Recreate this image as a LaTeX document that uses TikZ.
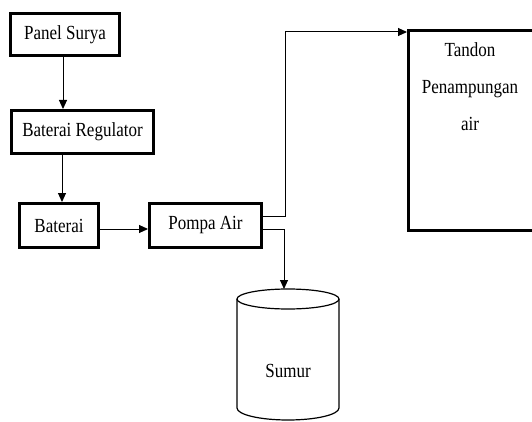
\documentclass[tikz,border=0pt]{standalone}
\usepackage{fontspec}
\setmainfont{Liberation Serif}[FakeStretch=0.85]
\usetikzlibrary{arrows.meta}
\begin{document}
\begin{tikzpicture}[x=1pt,y=1pt,
  box/.style={draw,line width=3pt,inner sep=0pt,font=\fontsize{20}{24}\selectfont},
  arr/.style={line width=1pt,-{Triangle[length=9pt,width=8pt]}},
  conn/.style={line width=1pt}]
\useasboundingbox (0,0) rectangle (532,421);
\node[box,minimum width=109pt,minimum height=42pt] (ps) at (65,386.5) {Panel Surya};
\node[box,minimum width=142pt,minimum height=43pt] (br) at (82.5,289) {Baterai Regulator};
\node[box,minimum width=79pt,minimum height=44pt] (bat) at (59,195.5) {Baterai};
\node[box,minimum width=112pt,minimum height=44pt] (pompa) at (205.5,195.5) {Pompa Air};
\node[box,minimum width=127pt,minimum height=200pt] (tandon) at (472,290.5) {};
\node[font=\fontsize{20}{37}\selectfont,align=center,anchor=north] (tandontxt) at (470,382) {Tandon\\Penampungan\\air};
% cylinder
\draw[line width=1.2pt] (237,122) -- (237,13) arc[start angle=180,end angle=360,x radius=51,y radius=12] -- (339,122);
\draw[line width=1.2pt] (288,122) ellipse[x radius=51,y radius=10];
\coordinate (sumurtop) at (284,132);
\node[font=\fontsize{20}{24}\selectfont] (sumur) at (288,50) {Sumur};
\coordinate (bend1) at (285,389);
% connectors
\draw[arr] ([xshift=-2pt]ps.south) -- ([xshift=-2pt]ps.south |- br.north);
\draw[arr] ([xshift=3pt]bat.north |- br.south) -- ([xshift=3pt]bat.north);
\draw[arr] ([yshift=-3.5pt]bat.east) -- ([yshift=-3.5pt]bat.east -| pompa.west);
\draw[arr] ([yshift=9.5pt]pompa.east) -| (bend1) -- (bend1 -| tandon.west);
\draw[arr] ([yshift=-4pt]pompa.east) -| (sumurtop);
\end{tikzpicture}
\end{document}
